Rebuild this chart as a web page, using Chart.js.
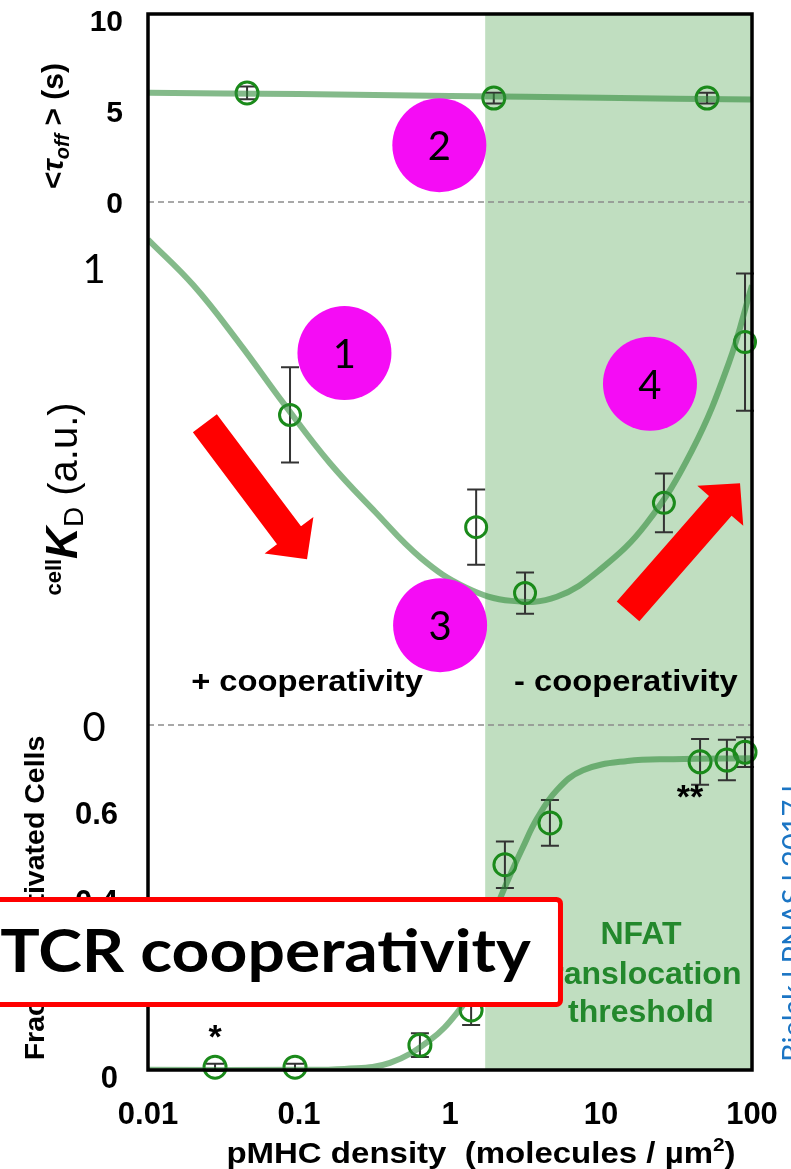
<!DOCTYPE html>
<html>
<head>
<meta charset="utf-8">
<script src="https://cdn.jsdelivr.net/npm/chart.js@4.4.0/dist/chart.umd.min.js"></script>
<style>
  html, body { margin: 0; padding: 0; background: #fff; }
  #wrap { position: relative; width: 791px; height: 1169px; }
</style>
</head>
<body>
<div id="wrap"><canvas id="chart"></canvas></div>
<script>
// shared x axis: pMHC density (molecules / um2)
const xTicks = [0.01, 0.1, 1, 10, 100];
const xTickLabels = ['0.01', '0.1', '1', '10', '100'];
const shadeFrom = 1.71;  // NFAT translocation threshold

// top panel: <toff> (s)
const toffX = [0.0453, 1.95, 50.4];
const toffY = [5.99, 5.71, 5.71];
const toffErr = [0.35, 0.3, 0.3];
const toffFitX = [0.01, 0.1, 1, 10, 100];
const toffFitY = [6.0, 5.93, 5.83, 5.73, 5.63];
const toffTicks = [0, 5, 10];

// middle panel: cellKD (a.u.)
const kdX = [0.0872, 1.49, 3.14, 26.1, 89.9];
const kdY = [0.677, 0.432, 0.288, 0.485, 0.836];
const kdErr = [0.104, 0.082, 0.045, 0.064, 0.15];
const kdFitX = [0.01, 0.02, 0.04, 0.08, 0.16, 0.32, 0.64, 1.28, 2.56, 5.1, 10, 20, 40, 70, 100];
const kdFitY = [1.06, 0.96, 0.835, 0.70, 0.572, 0.465, 0.365, 0.30, 0.271, 0.28, 0.341, 0.44, 0.599, 0.789, 0.96];
const kdTicks = [0, 1];

// bottom panel: fraction activated cells
const fracX = [0.0278, 0.0941, 0.632, 1.38, 2.31, 4.59, 45.3, 68.2, 89.9];
const fracY = [0.02, 0.02, 0.07, 0.15, 0.48, 0.575, 0.714, 0.718, 0.736];
const fracErr = [0.008, 0.008, 0.027, 0.034, 0.053, 0.052, 0.052, 0.046, 0.034];
const fracFitX = [0.01, 0.1, 0.2, 0.4, 0.74, 1.11, 1.42, 2.05, 2.49, 3.04, 3.77, 5.11, 7.6, 15, 30, 100];
const fracFitY = [0.014, 0.014, 0.016, 0.03, 0.082, 0.143, 0.202, 0.384, 0.455, 0.52, 0.585, 0.65, 0.695, 0.716, 0.72, 0.722];
const fracTicks = [0, 0.2, 0.4, 0.6];

// the three panels share one plot area; each y scale is stretched so its panel lands in place
const yTopRange = [-47.69, 10.33];
const yMidRange = [-0.7533, 1.5524];
const yBotRange = [0.0136, 2.4136];

// slide annotations, in data units (x, and y of the named scale)
const markers = [
  { label: '1', x: 0.20, y: 0.812 },
  { label: '2', x: 0.85, y: 1.266 },
  { label: '3', x: 0.86, y: 0.218 },
  { label: '4', x: 21.1, y: 0.745 }
];
const arrows = [
  { from: [0.0238, 0.659], to: [0.113, 0.362] },
  { from: [15.1, 0.248], to: [83.3, 0.528] }
];

const SANS = '"Liberation Sans", Arial, sans-serif';
const CAL = 'Lato, "Open Sans", sans-serif';
const GREEN = '#1a8a1a';
const FIT = 'rgba(50,140,60,0.6)';

function pts(xs, ys) {
  return xs.map((x, i) => ({ x: x, y: ys[i] }));
}

function fitSet(xs, ys, axis) {
  return {
    data: pts(xs, ys), yAxisID: axis, showLine: true, pointRadius: 0,
    borderColor: FIT, borderWidth: 6, tension: 0.4
  };
}

function pointSet(xs, ys, axis, r) {
  return {
    data: pts(xs, ys), yAxisID: axis, pointRadius: r, pointBorderWidth: 3,
    pointBorderColor: GREEN, pointBackgroundColor: 'rgba(0,0,0,0)', clip: false
  };
}

// text made of differently styled pieces; stretch widens glyphs like the source image
function richText(ctx, x, y, angle, parts, align, stretch) {
  ctx.save();
  ctx.translate(x, y);
  ctx.rotate(angle);
  ctx.scale(stretch || 1, 1);
  ctx.textBaseline = 'alphabetic';
  ctx.textAlign = 'left';
  let total = 0;
  parts.forEach(p => { ctx.font = p.font; total += ctx.measureText(p.text).width; });
  let cx = align === 'left' ? 0 : -total / 2;
  parts.forEach(p => {
    ctx.font = p.font;
    ctx.fillStyle = p.color || '#000';
    ctx.fillText(p.text, cx, p.dy || 0);
    cx += ctx.measureText(p.text).width;
  });
  ctx.restore();
}

function stretchedText(ctx, text, x, y, stretch) {
  ctx.save();
  ctx.translate(x, y);
  ctx.scale(stretch, 1);
  ctx.fillText(text, 0, 0);
  ctx.restore();
}

function drawArrow(ctx, x0, y0, x1, y1) {
  const len = Math.hypot(x1 - x0, y1 - y0);
  const sw = 15, hw = 30.5, hl = 30;
  ctx.save();
  ctx.translate(x0, y0);
  ctx.rotate(Math.atan2(y1 - y0, x1 - x0));
  ctx.beginPath();
  ctx.moveTo(0, -sw);
  ctx.lineTo(len - hl, -sw);
  ctx.lineTo(len - hl, -hw);
  ctx.lineTo(len, 0);
  ctx.lineTo(len - hl, hw);
  ctx.lineTo(len - hl, sw);
  ctx.lineTo(0, sw);
  ctx.closePath();
  ctx.fillStyle = '#ff0000';
  ctx.fill();
  ctx.restore();
}

const errorSets = [
  { xs: toffX, ys: toffY, err: toffErr, axis: 'yTop' },
  { xs: kdX, ys: kdY, err: kdErr, axis: 'yMid' },
  { xs: fracX, ys: fracY, err: fracErr, axis: 'yBot' }
];

const panelPlugin = {
  id: 'panels',
  beforeDatasetsDraw(chart) {
    const { ctx, chartArea: a, scales } = chart;
    const sx = scales.x.getPixelForValue(shadeFrom);
    ctx.save();
    ctx.fillStyle = 'rgb(192,222,192)';
    ctx.fillRect(sx, a.top, a.right - sx, a.bottom - a.top);

    // dashed zero lines of the upper two panels
    ctx.strokeStyle = '#8c8c8c';
    ctx.lineWidth = 1.5;
    ctx.setLineDash([6, 4]);
    ['yTop', 'yMid'].forEach(id => {
      const y = scales[id].getPixelForValue(0);
      ctx.beginPath();
      ctx.moveTo(a.left, y);
      ctx.lineTo(a.right, y);
      ctx.stroke();
    });
    ctx.setLineDash([]);

    // error bars
    ctx.strokeStyle = '#333';
    ctx.lineWidth = 2;
    errorSets.forEach(s => {
      const ys = scales[s.axis];
      s.xs.forEach((xv, i) => {
        const x = scales.x.getPixelForValue(xv);
        const lo = ys.getPixelForValue(s.ys[i] - s.err[i]);
        const hi = ys.getPixelForValue(s.ys[i] + s.err[i]);
        ctx.beginPath();
        ctx.moveTo(x, lo); ctx.lineTo(x, hi);
        ctx.moveTo(x - 9, lo); ctx.lineTo(x + 9, lo);
        ctx.moveTo(x - 9, hi); ctx.lineTo(x + 9, hi);
        ctx.stroke();
      });
    });
    ctx.restore();
  },
  afterDatasetsDraw(chart) {
    const { ctx, chartArea: a } = chart;
    ctx.save();
    ctx.strokeStyle = '#000';
    ctx.lineWidth = 3.5;
    ctx.strokeRect(a.left, a.top, a.right - a.left, a.bottom - a.top);
    ctx.restore();
  },
  afterDraw(chart) {
    const { ctx, scales } = chart;
    const X = v => scales.x.getPixelForValue(v);
    const top = scales.yTop, mid = scales.yMid, bot = scales.yBot;
    ctx.save();

    // tick labels
    ctx.fillStyle = '#000';
    ctx.textBaseline = 'middle';
    ctx.textAlign = 'center';
    ctx.font = 'bold 31px ' + SANS;
    xTicks.forEach((v, i) => ctx.fillText(xTickLabels[i], X(v), 1115));

    ctx.textAlign = 'right';
    ctx.font = 'bold 30px ' + SANS;
    toffTicks.forEach(v => ctx.fillText(String(v), 123, top.getPixelForValue(v) + 3));
    ctx.font = 'bold 31px ' + SANS;
    fracTicks.forEach(v => ctx.fillText(String(v), 118, bot.getPixelForValue(v) + 3));
    ctx.textAlign = 'center';
    ctx.font = '40px ' + CAL;
    kdTicks.forEach(v => ctx.fillText(String(v), 94, mid.getPixelForValue(v) + 3));

    // axis titles
    richText(ctx, 481, 1163, 0, [
      { text: 'pMHC density  (molecules / \u00b5m', font: 'bold 30px ' + SANS },
      { text: '2', font: 'bold 19px ' + SANS, dy: -12 },
      { text: ')', font: 'bold 30px ' + SANS }
    ], 'center', 1.1);
    const up = -Math.PI / 2;
    richText(ctx, 63, 126, up, [
      { text: '<', font: 'bold 30px ' + SANS },
      { text: '\u03c4', font: 'italic bold 30px ' + SANS },
      { text: 'off', font: 'italic bold 20px ' + SANS, dy: 6 },
      { text: ' > (s)', font: 'bold 30px ' + SANS }
    ]);
    richText(ctx, 77, 499, up, [
      { text: 'cell', font: 'bold 22px ' + SANS, dy: -16 },
      { text: 'K', font: 'italic bold 44px ' + SANS },
      { text: 'D', font: '28px ' + SANS, dy: 6 },
      { text: ' (a.u.)', font: '40px ' + SANS }
    ]);
    richText(ctx, 44, 898, up, [
      { text: 'Fraction Activated Cells', font: 'bold 28.5px ' + SANS }
    ]);

    // region labels
    ctx.textAlign = 'center';
    ctx.textBaseline = 'middle';
    ctx.font = 'bold 30px ' + SANS;
    stretchedText(ctx, '+ cooperativity', X(0.113), mid.getPixelForValue(0.0917), 1.09);
    stretchedText(ctx, '- cooperativity', X(14.6), mid.getPixelForValue(0.0917), 1.09);
    ctx.fillStyle = '#23882c';
    ctx.font = 'bold 32px ' + SANS;
    ctx.fillText('NFAT', X(18.4), bot.getPixelForValue(0.320));
    ctx.fillText('translocation', X(18.4), bot.getPixelForValue(0.2295));
    ctx.fillText('threshold', X(18.4), bot.getPixelForValue(0.143));
    ctx.fillStyle = '#000';
    ctx.font = 'bold 34px ' + SANS;
    ctx.fillText('*', X(0.0278), bot.getPixelForValue(0.085));
    ctx.fillText('**', X(38.8), bot.getPixelForValue(0.63));

    // numbered markers and arrows
    markers.forEach(m => {
      const x = X(m.x), y = mid.getPixelForValue(m.y);
      ctx.beginPath();
      ctx.arc(x, y, 47, 0, Math.PI * 2);
      ctx.fillStyle = '#f50cf5';
      ctx.fill();
      ctx.fillStyle = '#000';
      ctx.font = '40px ' + CAL;
      ctx.fillText(m.label, x, y + 2);
    });
    arrows.forEach(a => drawArrow(ctx, X(a.from[0]), mid.getPixelForValue(a.from[1]),
                                       X(a.to[0]), mid.getPixelForValue(a.to[1])));

    // title banner
    const bx0 = X(0.0005), bx1 = X(5.6);
    const by0 = bot.getPixelForValue(0.407), by1 = bot.getPixelForValue(0.157);
    ctx.beginPath();
    ctx.roundRect(bx0, by0 + 2.5, bx1 - bx0 - 2.5, by1 - by0 - 5, 4);
    ctx.fillStyle = '#fff';
    ctx.fill();
    ctx.lineWidth = 5;
    ctx.strokeStyle = '#ff0000';
    ctx.stroke();
    ctx.fillStyle = '#000';
    ctx.textAlign = 'left';
    ctx.textBaseline = 'alphabetic';
    ctx.font = 'bold 60px ' + CAL;
    stretchedText(ctx, 'TCR cooperativity', X(0.00105), bot.getPixelForValue(0.236), 1.1);

    // source note, mostly off the right edge
    richText(ctx, X(218), bot.getPixelForValue(0.032), up, [
      { text: 'Bielak l PNAS l 2017 l', font: '29px ' + CAL, color: '#1b75c4' }
    ], 'left');

    ctx.restore();
  }
};

new Chart(document.getElementById('chart'), {
  type: 'scatter',
  data: {
    datasets: [
      fitSet(toffFitX, toffFitY, 'yTop'),
      fitSet(kdFitX, kdFitY, 'yMid'),
      fitSet(fracFitX, fracFitY, 'yBot'),
      pointSet(toffX, toffY, 'yTop', 11),
      pointSet(kdX, kdY, 'yMid', 10.5),
      pointSet(fracX, fracY, 'yBot', 11)
    ]
  },
  options: {
    responsive: true,
    maintainAspectRatio: false,
    animation: false,
    events: [],
    layout: { padding: { left: 148, right: 39, top: 14, bottom: 99 } },
    plugins: { legend: { display: false }, tooltip: { enabled: false } },
    scales: {
      x: { type: 'logarithmic', min: 0.01, max: 100, display: false },
      yTop: { type: 'linear', min: yTopRange[0], max: yTopRange[1], display: false },
      yMid: { type: 'linear', min: yMidRange[0], max: yMidRange[1], display: false },
      yBot: { type: 'linear', min: yBotRange[0], max: yBotRange[1], display: false }
    }
  },
  plugins: [panelPlugin]
});
</script>
</body>
</html>
